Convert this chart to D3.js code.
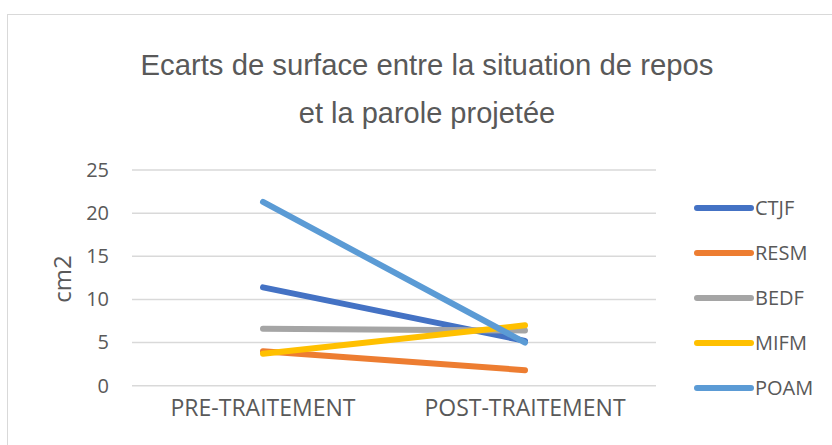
<!DOCTYPE html>
<html>
<head>
<meta charset="utf-8">
<script src="https://cdn.jsdelivr.net/npm/d3@7"></script>
<style>
  html, body { margin: 0; padding: 0; background: #fff; }
  svg { display: block; }
</style>
</head>
<body>
<svg id="chart" width="832" height="445"></svg>
<script>
// Surface differences (cm2) before and after treatment, per subject
const categories = ["PRE-TRAITEMENT", "POST-TRAITEMENT"];
const seriesNames = ["CTJF", "RESM", "BEDF", "MIFM", "POAM"];
const CTJF = [11.4, 5.2];
const RESM = [4.0, 1.8];
const BEDF = [6.6, 6.4];
const MIFM = [3.7, 7.0];
const POAM = [21.3, 5.0];
const yTicks = [0, 5, 10, 15, 20, 25];
const colors = ["#4472C4", "#ED7D31", "#A5A5A5", "#FFC000", "#5B9BD5"];

const series = [CTJF, RESM, BEDF, MIFM, POAM].map((vals, i) => ({
  name: seriesNames[i], values: vals, color: colors[i]
}));

const svg = d3.select("#chart");
const textColor = "#595959";
const bodyFont = "'Open Sans', 'Liberation Sans', sans-serif";

// Chart frame
svg.append("rect")
  .attr("x", 7.5).attr("y", 14.5)
  .attr("width", 900).attr("height", 500)
  .attr("fill", "#fff").attr("stroke", "#d9d9d9").attr("stroke-width", 1);

// Title, two lines
const title = svg.append("text")
  .attr("text-anchor", "middle")
  .attr("font-family", "'Liberation Sans', Arial, sans-serif")
  .attr("font-size", 29)
  .attr("fill", textColor);
title.append("tspan").attr("x", 427).attr("y", 75)
  .attr("textLength", 573).attr("lengthAdjust", "spacingAndGlyphs")
  .text("Ecarts de surface entre la situation de repos");
title.append("tspan").attr("x", 427).attr("y", 123)
  .text("et la parole projetée");

const plot = { left: 132, right: 656, top: 170, bottom: 385.7 };

const x = d3.scaleBand().domain(categories).range([plot.left, plot.right]);
const y = d3.scaleLinear().domain([0, 25]).range([plot.bottom, plot.top]);

// Gridlines
svg.append("g")
  .selectAll("line")
  .data(yTicks)
  .join("line")
  .attr("x1", plot.left).attr("x2", plot.right)
  .attr("y1", d => y(d)).attr("y2", d => y(d))
  .attr("stroke", "#d9d9d9").attr("stroke-width", 1.5);

// Y axis labels
const yAxis = svg.append("g")
  .attr("transform", `translate(${plot.left - 23},0)`)
  .call(d3.axisLeft(y).tickValues(yTicks).tickSize(0).tickPadding(0));
yAxis.select(".domain").remove();
yAxis.selectAll("text")
  .attr("font-family", bodyFont)
  .attr("font-size", 20)
  .attr("fill", textColor);

// X axis labels
const xAxis = svg.append("g")
  .attr("transform", `translate(0,${plot.bottom})`)
  .call(d3.axisBottom(x).tickSize(0).tickPadding(14));
xAxis.select(".domain").remove();
xAxis.selectAll("text")
  .attr("font-family", bodyFont)
  .attr("font-size", 23)
  .attr("fill", textColor);

// Y axis title
svg.append("text")
  .attr("transform", "translate(71,279) rotate(-90)")
  .attr("text-anchor", "middle")
  .attr("font-family", bodyFont)
  .attr("font-size", 24)
  .attr("fill", textColor)
  .text("cm2");

// Series lines
const line = d3.line()
  .x((d, i) => x(categories[i]) + x.bandwidth() / 2)
  .y(d => y(d));

svg.append("g")
  .selectAll("path")
  .data(series)
  .join("path")
  .attr("d", d => line(d.values))
  .attr("fill", "none")
  .attr("stroke", d => d.color)
  .attr("stroke-width", 6)
  .attr("stroke-linecap", "round");

// Legend
const legend = svg.append("g")
  .selectAll("g")
  .data(series)
  .join("g")
  .attr("transform", (d, i) => `translate(697,${208 + i * 45})`);
legend.append("line")
  .attr("x1", 0).attr("x2", 54)
  .attr("stroke", d => d.color)
  .attr("stroke-width", 6)
  .attr("stroke-linecap", "round");
legend.append("text")
  .attr("x", 58).attr("dy", "0.36em")
  .attr("font-family", bodyFont)
  .attr("font-size", 20)
  .attr("fill", textColor)
  .text(d => d.name);
</script>
</body>
</html>
